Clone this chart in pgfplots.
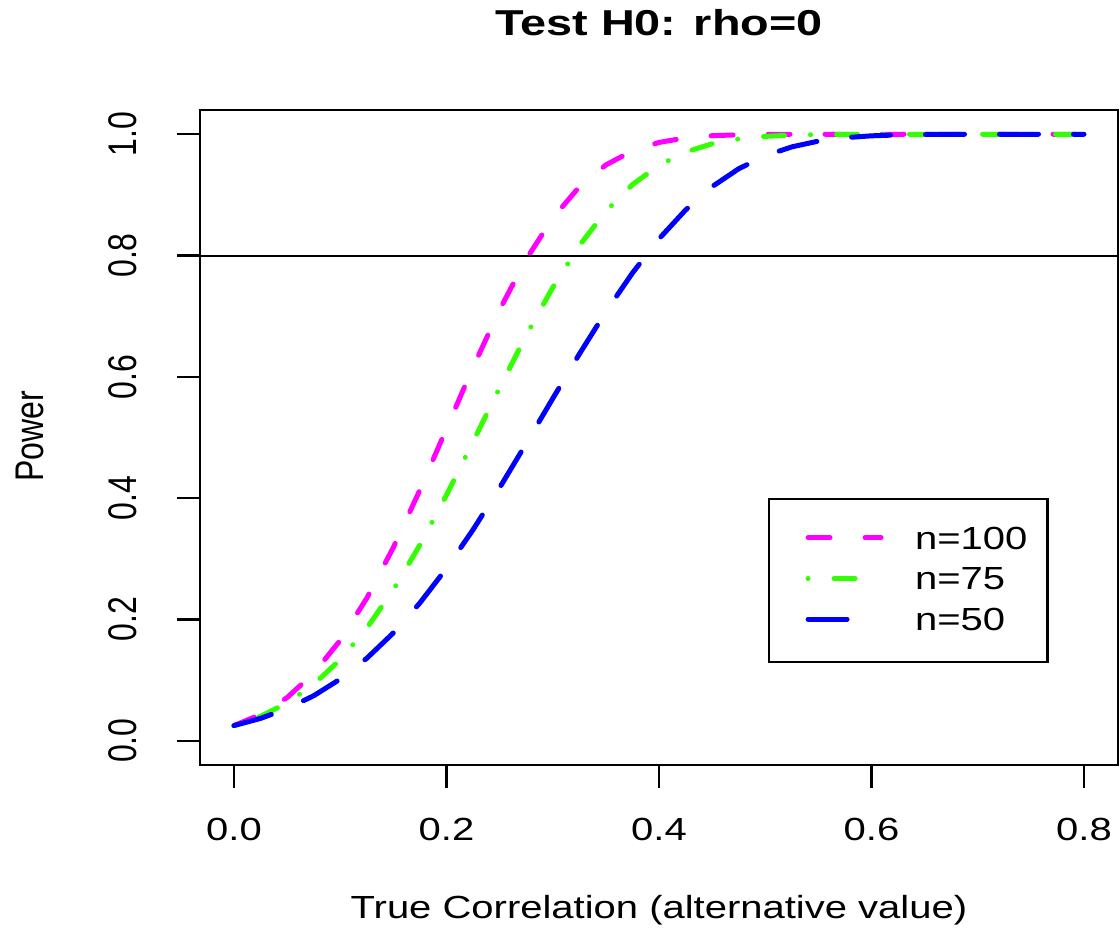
\documentclass[border=0pt]{standalone}
\usepackage{fontspec}
\setmainfont{Liberation Sans}[FakeStretch=1.25]
\newfontfamily\rotfont{Liberation Sans}[FakeStretch=0.8]
\newfontfamily\titlefont{Liberation Sans}[FakeStretch=1.3]
\usepackage{pgfplots}
\usepackage{pgfplotstable}
\pgfplotsset{compat=1.18}
\definecolor{rmag}{RGB}{255,0,255}
\definecolor{rgreen}{RGB}{50,255,0}
\definecolor{rblue}{RGB}{0,0,255}

\pgfplotstableread{
x y
0 0.0250
0.025 0.0433
0.05 0.0712
0.075 0.1113
0.1 0.1656
0.125 0.2351
0.15 0.3187
0.175 0.4135
0.2 0.5146
0.225 0.6159
0.25 0.7107
0.275 0.7939
0.3 0.8618
0.325 0.9133
0.35 0.9494
0.375 0.9727
0.4 0.9865
0.425 0.9940
0.45 0.9976
0.475 0.9991
0.5 0.9997
0.55 1.0000
0.6 1.0
0.7 1.0
0.8 1.0
}\nhundred

\pgfplotstableread{
x y
0 0.0250
0.025 0.0402
0.05 0.0624
0.075 0.0930
0.1 0.1338
0.125 0.1857
0.15 0.2490
0.175 0.3229
0.2 0.4052
0.225 0.4930
0.25 0.5821
0.275 0.6683
0.3 0.7474
0.325 0.8163
0.35 0.8731
0.375 0.9170
0.4 0.9489
0.425 0.9707
0.45 0.9843
0.475 0.9923
0.5 0.9965
0.525 0.9986
0.55 0.9995
0.6 1.0
0.7 1.0
0.8 1.0
}\nseventyfive

\pgfplotstableread{
x y
0 0.0250
0.025 0.0368
0.05 0.0530
0.075 0.0742
0.1 0.1017
0.125 0.1360
0.15 0.1778
0.175 0.2273
0.2 0.2843
0.225 0.3480
0.25 0.4172
0.275 0.4901
0.3 0.5643
0.325 0.6375
0.35 0.7073
0.375 0.7712
0.4 0.8275
0.425 0.8751
0.45 0.9136
0.475 0.9431
0.5 0.9645
0.525 0.9792
0.55 0.9887
0.575 0.9943
0.6 0.9974
0.625 0.9989
0.65 0.9996
0.7 1.0
0.8 1.0
}\nfifty

\begin{document}
\begin{tikzpicture}
\begin{axis}[
  at={(100pt,83pt)}, anchor=south west,
  scale only axis, width=459pt, height=327.5pt,
  xmin=-0.032, xmax=0.832, ymin=-0.04, ymax=1.04,
  axis line style={line width=1.2pt},
  xtick={0,0.2,0.4,0.6,0.8}, xticklabels={0.0,0.2,0.4,0.6,0.8},
  ytick={0,0.2,0.4,0.6,0.8,1}, yticklabels={0.0,0.2,0.4,0.6,0.8,1.0},
  xtick pos=left, ytick pos=left,
  tick align=outside, major tick length=11.5pt,
  every tick/.style={black, line width=1.2pt},
  xticklabel style={font=\fontsize{16}{19}\selectfont, anchor=base, inner sep=0pt},
  xticklabel shift=26.5pt,
  yticklabel style={font=\rotfont\fontsize{20}{24}\selectfont, rotate=90, anchor=base, inner sep=0pt},
  yticklabel shift=20pt,
  every axis title shift=0pt,
  title={Test H0: rho=0},
  title style={at={(rel axis cs:0.5,1.113)}, anchor=base, inner sep=0pt, font={\titlefont\bfseries\fontsize{18}{22}\selectfont}},
  xlabel={True Correlation (alternative value)},
  xlabel style={at={(rel axis cs:0.5,-0.2351)}, anchor=base, inner sep=0pt, font=\fontsize{16}{19}\selectfont},
  ylabel={Power},
  ylabel style={at={(rel axis cs:-0.171,0.502)}, anchor=base, inner sep=0pt, font=\rotfont\fontsize{20}{24}\selectfont},
  legend cell align=left,
  legend style={at={(rel axis cs:0.6187,0.4076)}, anchor=north west, draw=black, line width=1.1pt, fill=white,
    inner xsep=10pt, inner ysep=14pt, row sep=7.75pt, font=\fontsize{16}{19}\selectfont,
    nodes={inner sep=0pt}, /tikz/every odd column/.style={column sep=15.75pt}},
  legend image code/.code={\path (0pt,0pt) (44.75pt,0pt); \draw[#1] (8.25pt,1pt) -- (44.75pt,1pt);},
]
\addplot[rmag, line width=2.5pt, line cap=round, line join=round, dash pattern=on 11pt off 17.5pt] table {\nhundred};
\addlegendentry{n=100}
\addplot[rgreen, line width=2.5pt, line cap=round, line join=round, dash pattern=on 0.01pt off 13pt on 10.5pt off 13pt] table {\nseventyfive};
\addlegendentry{n=75}
\addplot[rblue, line width=2.5pt, line cap=round, line join=round, dash pattern=on 19.5pt off 17.5pt] table {\nfifty};
\addlegendentry{n=50}
\addplot[black, line width=1pt, forget plot] coordinates {(-0.032,0.8) (0.832,0.8)};
\end{axis}
\pgfresetboundingbox
\useasboundingbox (0,0) rectangle (560pt,465.5pt);
\end{tikzpicture}
\end{document}
